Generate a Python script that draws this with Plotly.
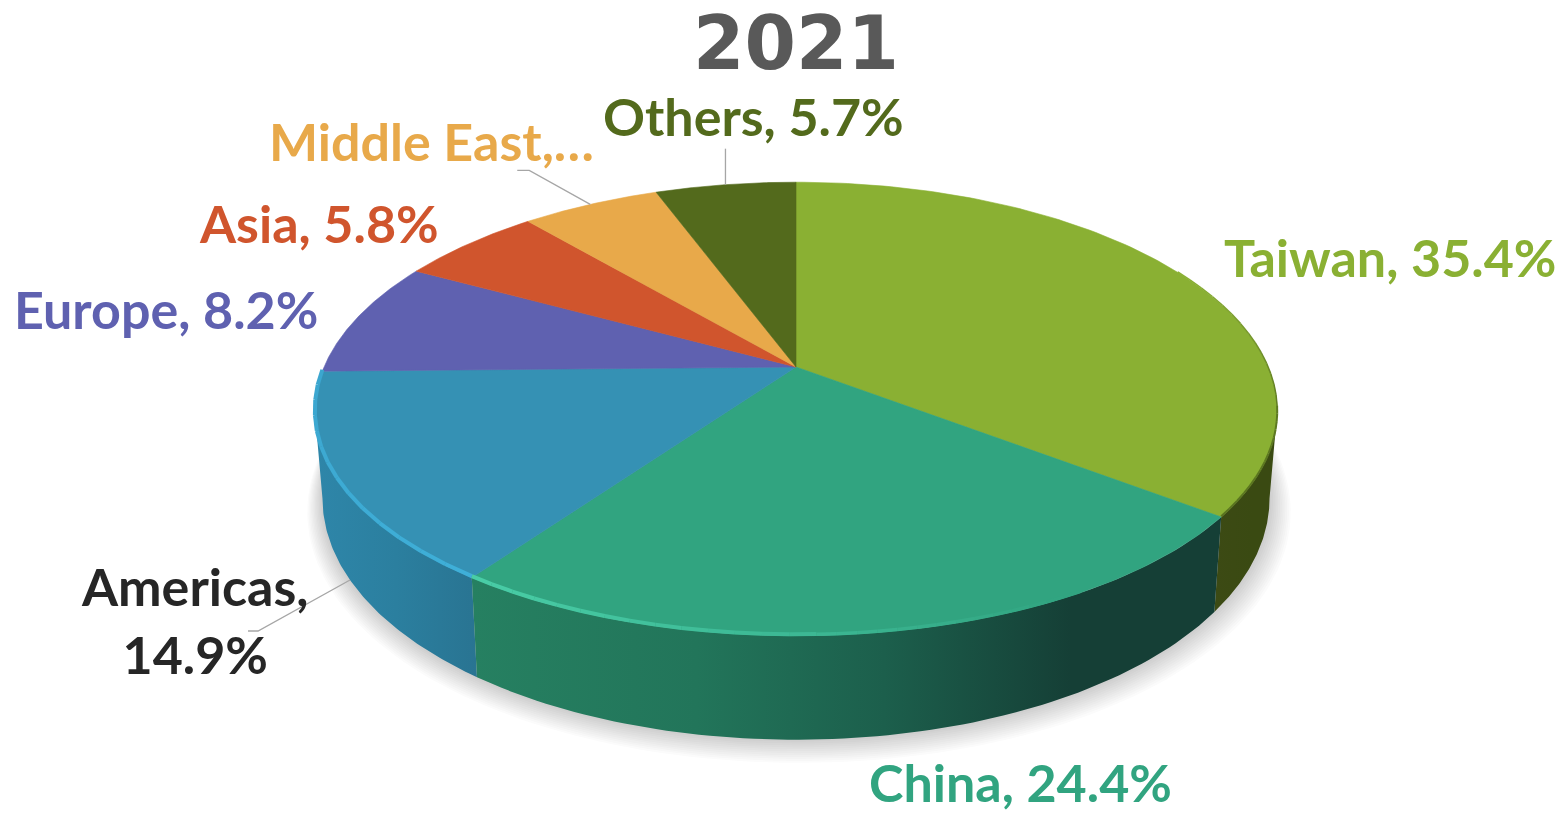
import numpy as np
import plotly.graph_objects as go

# ---- data ----
categories = ["Taiwan", "China", "Americas", "Europe", "Asia", "Middle East", "Others"]
shares = [35.4, 24.4, 14.9, 8.2, 5.8, 5.6, 5.7]
title_text = "2021"
top_colors = ["#8AB033", "#31A480", "#3591B4", "#5F61B0", "#D0552D", "#E8A94A", "#536A1C"]
text_colors = ["#8AB033", "#31A480", "#262626", "#5F61B0", "#D0552D", "#E8A94A", "#536A1C"]

# ---- 3D pie geometry (screen px) ----
CX, CY, A, B, K, KX = 796, 367, 472, 219, 0.185, 0.195
WALL_X, WALL_Y, WALL_H = 0.984, 1.076, 83.6
EXTREME = np.degrees(np.arccos(-KX))  # angle of the silhouette on the right


def top(deg):
    t = np.radians(deg)
    u, v = np.sin(t), np.cos(t)
    return A * u / (1 + KX * v), -B * v / (1 + K * v)


def rim(deg):
    x, y = top(deg)
    return CX + x, CY + y


def base(deg):
    x, y = top(deg)
    return CX + WALL_X * x, CY + WALL_Y * y + WALL_H


edges = np.concatenate([[0], np.cumsum(shares)]) / sum(shares) * 360
fig = go.Figure()


def poly(x, y, color, **kw):
    fig.add_trace(go.Scatter(x=x, y=y, mode="lines", fill="toself", fillcolor=color,
                             line=dict(width=0.6, color=color), hoverinfo="skip", **kw))


# soft shadow under the pie
all_deg = np.linspace(0, 360, 241)
for i in range(12, 0, -1):
    grow = 1 + i * 0.0032
    bx, by = top(all_deg)
    x = CX + 3 * (i / 12) + WALL_X * bx * grow
    y = CY + WALL_Y * by * grow + WALL_H + 1.0 * i
    fig.add_trace(go.Scatter(x=x, y=y, mode="lines", fill="toself",
                             fillcolor="rgba(60,60,60,0.018)", line=dict(width=0),
                             hoverinfo="skip"))

# side walls
wall_grad = {
    0: [[0, "#3C4A14"], [0.6, "#3A4A12"], [1, "#3A4A12"]],
    1: [[0, "#268061"], [0.3, "#22755A"], [0.55, "#1C5F4C"], [0.8, "#153F36"], [1, "#153F36"]],
    2: [[0, "#2E86A9"], [0.5, "#2B7F9F"], [1, "#297492"]],
}
for idx in (0, 2, 1):
    a0, a1 = max(edges[idx], EXTREME), min(edges[idx + 1], 360 - EXTREME)
    d = np.linspace(a0, a1, 80)
    rx, ry = rim(d)
    bx, by = base(d)
    xs = np.concatenate([rx, bx[::-1]])
    ys = np.concatenate([ry, by[::-1]])
    fig.add_trace(go.Scatter(
        x=xs, y=ys, mode="lines", fill="toself",
        fillgradient=dict(type="horizontal", colorscale=wall_grad[idx],
                          start=float(xs.min()), stop=float(xs.max())),
        line=dict(width=0), hoverinfo="skip"))

# top face
for i, c in enumerate(top_colors):
    d = np.linspace(edges[i], edges[i + 1], 120)
    rx, ry = rim(d)
    poly(np.r_[CX, rx, CX], np.r_[CY, ry, CY], c)

# bevel highlights along the front rim: (from angle, to angle, from colour, to colour, width)
rim_segments = [
    (edges[2], 178, "#4ACFA8", "#3DB894", 4.0),
    (178, 150, "#3DB894", "#31A480", 3.5),
    (edges[3], edges[2], "#3CA6CF", "#3FAFD8", 4.0),
    (edges[1], 100, "#5A7420", "#5E7A22", 2.0),
    (100, 62, "#5E7A22", "#8AB033", 1.5),
]


def mix(c1, c2, f):
    a = np.array([int(c1[j:j + 2], 16) for j in (1, 3, 5)])
    b = np.array([int(c2[j:j + 2], 16) for j in (1, 3, 5)])
    m = (a + (b - a) * f).astype(int)
    return f"rgb({m[0]},{m[1]},{m[2]})"


for start, stop, c1, c2, w in rim_segments:
    steps = 14
    g = np.linspace(start, stop, steps + 1)
    for j in range(steps):
        d = np.linspace(g[j], g[j + 1], 6)
        rx, ry = rim(d)
        fig.add_trace(go.Scatter(x=rx, y=ry - w * 0.35, mode="lines",
                                 line=dict(color=mix(c1, c2, (j + 1) / steps), width=w),
                                 hoverinfo="skip"))

# leaders
mid = (edges[:-1] + edges[1:]) / 2
LEADER = "#A6A6A6"
ox, oy = rim(mid[6])
fig.add_trace(go.Scatter(x=[ox, ox], y=[oy, oy - 36], mode="lines",
                         line=dict(color=LEADER, width=1.3), hoverinfo="skip"))
mx, my = rim(mid[5])
fig.add_trace(go.Scatter(x=[mx, mx - 61, mx - 73], y=[my, my - 34, my - 34], mode="lines",
                         line=dict(color=LEADER, width=1.3), hoverinfo="skip"))
ax, ay = base(mid[2] - 2)
fig.add_trace(go.Scatter(x=[ax, ax - 92, ax - 102], y=[ay, ay + 51, ay + 51], mode="lines",
                         line=dict(color=LEADER, width=1.3), hoverinfo="skip"))

# labels
label_pos = [
    (1222, 257, "left"), (867, 782, "left"), (194, 620, "center"), (12, 309, "left"),
    (197, 223, "left"), (267, 141, "left"), (601, 116, "left"),
]
for i, name in enumerate(categories):
    if name == "Middle East":
        text = f"{name},…"
    elif name == "Americas":
        text = f"{name},<br>{shares[i]}%"
    else:
        text = f"{name}, {shares[i]}%"
    x, y, anchor = label_pos[i]
    fig.add_annotation(x=x, y=y, text=text, showarrow=False, xanchor=anchor, yanchor="middle",
                       align=anchor, font=dict(family="Lato", size=52, color=text_colors[i], weight=700))

fig.add_annotation(x=796, y=43, text=title_text, showarrow=False, xanchor="center", yanchor="middle",
                   font=dict(family="DejaVu Sans", size=74, color="#595959", weight=700))

fig.update_layout(
    width=1565, height=813, margin=dict(l=0, r=0, t=0, b=0), showlegend=False,
    plot_bgcolor="white", paper_bgcolor="white",
    xaxis=dict(range=[0, 1565], visible=False, fixedrange=True),
    yaxis=dict(range=[813, 0], visible=False, fixedrange=True),
)
fig.write_html("out.html", config=dict(displayModeBar=False),
               post_script="document.body.style.margin='0';document.documentElement.style.overflow='hidden';")
